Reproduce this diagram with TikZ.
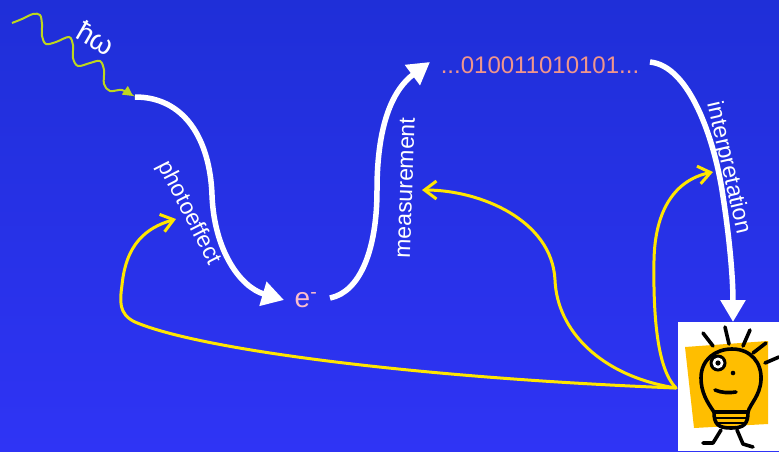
\documentclass[tikz,border=0pt]{standalone}
\usepackage{fontspec}
\setmainfont{Liberation Sans}
\usetikzlibrary{arrows.meta}

\definecolor{bgtop}{RGB}{31,47,216}
\definecolor{bgbot}{RGB}{47,52,245}
\definecolor{photon}{RGB}{190,215,30}
\definecolor{feedback}{RGB}{255,230,0}
\definecolor{bulbbg}{RGB}{255,190,0}
\definecolor{electron}{RGB}{250,190,205}
\definecolor{bits}{RGB}{240,150,140}

\tikzset{
  mainarrow/.style={draw=white, line width=5.5pt,
    -{Triangle[length=22pt,width=24pt]}},
  backarrow/.style={draw=feedback, line width=3pt, line cap=round,
    -{Straight Barb[length=12pt,width=18pt,line width=3pt]}},
  photonline/.style={draw=photon, line width=2pt,
    -{Triangle[length=10pt,width=10pt]}},
  steplabel/.style={text=white, font=\fontsize{23}{27}\selectfont, inner sep=0pt},
  ink/.style={draw=black, line width=3.6pt, line cap=round, line join=round}
}

\begin{document}
\begin{tikzpicture}[x=1pt,y=-1pt]
  \useasboundingbox (0,0) rectangle (779,451);
  \shade[top color=bgtop, bottom color=bgbot] (0,0) rectangle (779,451);

  % photon wave
  \coordinate (ph0) at (12,23);
  \coordinate (ph1) at (133,96);
  \draw[photonline] plot[smooth, tension=0.55] coordinates {
    (12,23) (22,19) (33,14) (40,15) (42,24) (42,36) (46,44) (56,42)
    (69,37) (73,45) (73,58) (78,66) (90,63) (100,61) (104,70)
    (104,84) (110,91) (122,90) (133,96)};
  \node[steplabel, rotate=-30, font=\fontsize{29}{32}\selectfont] (hw) at (96,38) {ħω};

  % electron and bit string
  \node[text=electron, font=\fontsize{28}{30}\selectfont, inner sep=0pt] (em) at (306,300) {e\textsuperscript{-}};
  \node[text=bits, font=\fontsize{24}{28}\selectfont, inner sep=0pt] (bits) at (540,65) {...010011010101...};

  % light bulb
  \node[fill=white, minimum width=101pt, minimum height=129pt,
        anchor=north west, inner sep=0pt] (bulb) at (678,322) {};
  \fill[bulbbg] (685,347) -- (768,341) -- (768,424) -- (694,428) -- cycle;
  \draw[ink] (703,333) -- (713,346);
  \draw[ink] (725,327) -- (729,344);
  \draw[ink] (750,330) -- (743,346);
  \draw[ink] (766,343) -- (753,353);
  \draw[ink] (779,357) -- (765,363);
  \draw[ink] (714,412) .. controls (707,402) and (701,392) .. (701,378)
     .. controls (701,359) and (716,349) .. (732,349)
     .. controls (751,349) and (762,363) .. (761,380)
     .. controls (760,396) and (750,404) .. (748,412);
  \draw[ink] (714,412) -- (748,412);
  \draw[ink, line width=2.4pt] (716,418) -- (746,418);
  \draw[ink, line width=2.4pt] (716,423) -- (745,423);
  \draw[ink] (714,412) .. controls (714,424) and (718,428) .. (731,428)
     .. controls (744,428) and (748,424) .. (748,412);
  \fill[black] (718,363) circle (8.5pt);
  \fill[white] (718,363) circle (5.5pt);
  \fill[black] (718,363) circle (2.6pt);
  \fill[black] (733,373) circle (2.3pt);
  \draw[ink] (715,390) .. controls (722,393) and (729,393) .. (736,392);
  \draw[ink] (721,430) -- (713,443) -- (703,443);
  \draw[ink] (737,430) -- (743,444) -- (753,447);

  % main chain of steps
  \coordinate (pe0) at (135,97);
  \coordinate (pe1) at (284,300);
  \draw[mainarrow] (pe0) .. controls (185,97) and (210,140) .. (212,195)
     .. controls (214,250) and (240,287) .. (pe1);
  \node[steplabel, rotate=-63] (lphoto) at (189,213) {photoeffect};

  \coordinate (ms0) at (330,298);
  \coordinate (ms1) at (430,62);
  \draw[mainarrow] (ms0) .. controls (360,292) and (377,250) .. (377,190)
     .. controls (377,120) and (395,88) .. (ms1);
  \node[steplabel, rotate=88] (lmeas) at (405,188) {measurement};

  \coordinate (ip0) at (650,62);
  \coordinate (ip1) at (733,322);
  \draw[mainarrow] (ip0) .. controls (690,66) and (714,140) .. (722,190)
     .. controls (730,240) and (733,280) .. (ip1);
  \node[steplabel, rotate=-77] (linterp) at (728,168) {interpretation};

  % feedback from the bulb
  \coordinate (fb) at (676,388);
  \coordinate (fbp) at (176,219);
  \coordinate (fbm) at (422,190);
  \coordinate (fbi) at (713,172);
  \draw[backarrow] (fb) .. controls (420,378) and (200,350) .. (135,322)
     .. controls (118,314) and (120,300) .. (122,285)
     .. controls (126,245) and (145,228) .. (fbp);
  \draw[backarrow] (fb) .. controls (600,376) and (557,330) .. (555,280)
     .. controls (552,220) and (480,190) .. (fbm);
  \draw[backarrow] (fb) .. controls (658,370) and (653,320) .. (654,260)
     .. controls (655,210) and (675,180) .. (fbi);
\end{tikzpicture}
\end{document}
